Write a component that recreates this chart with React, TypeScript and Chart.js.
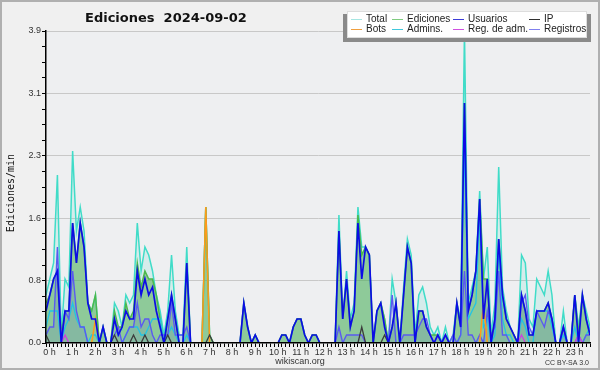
import React, { useEffect, useRef } from 'react';
import { Chart, registerables } from 'chart.js';

Chart.register(...registerables);

// 10-minute slots (6 per hour), values in edits per minute
const TOTAL = [
  0.6, 0.8, 1.0, 2.1, 0.1, 0.8,
  0.7, 2.4, 1.4, 1.7, 1.4, 0.5,
  0.4, 0.6, 0, 0.2, 0, 0,
  0.5, 0.4, 0.2, 0.6, 0.5, 0.6,
  1.5, 0.9, 1.2, 1.1, 0.9, 0.6,
  0.4, 0.1, 0.4, 1.1, 0.4, 0.1,
  0.1, 1.2, 0, 0, 0, 0,
  1.7, 0.1, 0, 0, 0, 0,
  0, 0, 0, 0, 0.5, 0.2,
  0, 0.1, 0, 0, 0, 0,
  0, 0, 0.1, 0.1, 0, 0.2,
  0.3, 0.3, 0.1, 0, 0.1, 0.1,
  0, 0, 0, 0, 0, 1.6,
  0.3, 0.9, 0.3, 0.5, 1.7, 1.2,
  1.2, 1.1, 0, 0.4, 0.5, 0.3,
  0, 0.8, 0.5, 0, 0.7, 1.3,
  1.1, 0.1, 0.6, 0.7, 0.5, 0.2,
  0.1, 0.2, 0, 0.2, 0, 0.1,
  0.5, 0.3, 3.9, 0.5, 0.7, 0.9,
  1.9, 0.8, 1.2, 0.1, 0.5, 2.2,
  0.7, 0.4, 0.2, 0.1, 0, 1.1,
  1.0, 0.3, 0.2, 0.8, 0.7, 0.6,
  0.9, 0.6, 0, 0, 0.4, 0,
  0, 0.6, 0.2, 0.6, 0.4, 0.2,
];

const EDICIONES = [
  0.5, 0.6, 0.8, 0.9, 0.1, 0.4,
  0.4, 1.5, 1.0, 1.5, 1.2, 0.5,
  0.4, 0.6, 0, 0.2, 0, 0,
  0.4, 0.2, 0.2, 0.5, 0.3, 0.4,
  1.0, 0.7, 0.9, 0.8, 0.8, 0.6,
  0.3, 0, 0.3, 0.6, 0.3, 0,
  0, 1.0, 0, 0, 0, 0,
  1.7, 0.1, 0, 0, 0, 0,
  0, 0, 0, 0, 0.5, 0.2,
  0, 0.1, 0, 0, 0, 0,
  0, 0, 0.1, 0.1, 0, 0.2,
  0.3, 0.3, 0.1, 0, 0.1, 0.1,
  0, 0, 0, 0, 0, 1.4,
  0.3, 0.8, 0.2, 0.4, 1.6, 1.1,
  1.2, 1.1, 0, 0.4, 0.5, 0.3,
  0, 0.2, 0.5, 0, 0.6, 1.2,
  1.0, 0, 0.4, 0.4, 0.2, 0.1,
  0.1, 0.1, 0, 0.1, 0, 0,
  0.5, 0.2, 3.0, 0.4, 0.6, 0.9,
  1.8, 0.8, 0.8, 0, 0.3, 1.3,
  0.6, 0.3, 0.2, 0.1, 0, 0.6,
  0.4, 0.1, 0.1, 0.4, 0.4, 0.4,
  0.5, 0.3, 0, 0, 0.2, 0,
  0, 0.6, 0.1, 0.6, 0.3, 0.1,
];

const USUARIOS = [
  0.4, 0.6, 0.8, 0.9, 0, 0.4,
  0.4, 1.5, 1.0, 1.5, 1.2, 0.5,
  0.3, 0.3, 0, 0.2, 0, 0,
  0.3, 0.1, 0.2, 0.4, 0.3, 0.3,
  0.9, 0.6, 0.8, 0.6, 0.7, 0.4,
  0.2, 0, 0.3, 0.6, 0.3, 0,
  0, 1.0, 0, 0, 0, 0,
  0, 0, 0, 0, 0, 0,
  0, 0, 0, 0, 0.5, 0.2,
  0, 0.1, 0, 0, 0, 0,
  0, 0, 0.1, 0.1, 0, 0.2,
  0.3, 0.3, 0.1, 0, 0.1, 0.1,
  0, 0, 0, 0, 0, 1.4,
  0.3, 0.8, 0.2, 0.4, 1.5, 0.8,
  1.2, 1.1, 0, 0.4, 0.5, 0.2,
  0, 0.2, 0.5, 0, 0.6, 1.2,
  1.0, 0, 0.4, 0.4, 0.2, 0.1,
  0, 0.1, 0, 0.1, 0, 0,
  0.5, 0.2, 3.0, 0.4, 0.6, 0.9,
  1.8, 0.3, 0.8, 0, 0.3, 1.3,
  0.6, 0.3, 0.2, 0.1, 0, 0.6,
  0.4, 0.1, 0.1, 0.4, 0.4, 0.4,
  0.5, 0.3, 0, 0, 0.2, 0,
  0, 0.6, 0, 0.6, 0.3, 0.1,
];

const IP = [
  0.1, 0, 0, 0, 0, 0,
  0, 0, 0, 0, 0, 0,
  0, 0, 0, 0, 0, 0,
  0.1, 0, 0, 0, 0, 0.1,
  0, 0, 0.1, 0, 0, 0,
  0, 0, 0.1, 0, 0, 0,
  0, 0, 0, 0, 0, 0,
  0, 0.1, 0, 0, 0, 0,
  0, 0, 0, 0, 0, 0,
  0, 0, 0, 0, 0, 0,
  0, 0, 0, 0, 0, 0,
  0, 0, 0, 0, 0, 0,
  0, 0, 0, 0, 0, 0,
  0, 0, 0, 0, 0, 0.2,
  0, 0, 0, 0, 0, 0.1,
  0, 0, 0, 0, 0, 0,
  0, 0, 0, 0, 0, 0,
  0, 0, 0, 0, 0, 0,
  0, 0, 0, 0, 0, 0,
  0, 0, 0, 0, 0, 0,
  0, 0, 0, 0, 0, 0,
  0, 0, 0, 0, 0, 0,
  0, 0, 0, 0, 0, 0,
  0, 0, 0, 0, 0, 0,
];

const BOTS = [
  0, 0, 0, 0, 0, 0,
  0, 0, 0, 0, 0, 0,
  0, 0.3, 0, 0, 0, 0,
  0, 0, 0, 0, 0, 0,
  0, 0, 0, 0, 0, 0,
  0, 0, 0, 0, 0, 0,
  0, 0, 0, 0, 0, 0,
  1.7, 0, 0, 0, 0, 0,
  0, 0, 0, 0, 0, 0,
  0, 0, 0, 0, 0, 0,
  0, 0, 0, 0, 0, 0,
  0, 0, 0, 0, 0, 0,
  0, 0, 0, 0, 0, 0,
  0, 0, 0, 0, 0, 0,
  0, 0, 0, 0, 0, 0,
  0, 0, 0, 0, 0, 0,
  0, 0, 0, 0, 0, 0,
  0, 0, 0, 0, 0, 0,
  0, 0, 0, 0, 0, 0,
  0, 0.5, 0, 0, 0, 0,
  0, 0, 0, 0, 0, 0,
  0, 0, 0, 0, 0, 0,
  0, 0, 0, 0, 0, 0,
  0, 0, 0, 0, 0, 0,
];

const ADMINS = [
  0.2, 0.4, 0.4, 0.4, 0, 0.2,
  0.3, 0.5, 0.3, 0.2, 0.2, 0,
  0.1, 0.1, 0, 0, 0, 0,
  0, 0, 0, 0.1, 0.2, 0.2,
  0.2, 0.1, 0.1, 0.2, 0.3, 0.3,
  0.3, 0, 0.1, 0.2, 0.1, 0,
  0, 0.1, 0, 0, 0, 0,
  0, 0, 0, 0, 0, 0,
  0, 0, 0, 0, 0, 0,
  0, 0, 0, 0, 0, 0,
  0, 0, 0, 0, 0, 0,
  0, 0, 0, 0, 0, 0,
  0, 0, 0, 0, 0, 0,
  0, 0, 0, 0, 0, 0,
  0, 0, 0, 0, 0, 0,
  0, 0, 0, 0, 0, 0,
  0, 0, 0, 0, 0, 0,
  0, 0, 0, 0, 0, 0,
  0, 0.1, 2.5, 0.3, 0.4, 0.5,
  1.6, 0.2, 0.3, 0, 0.1, 1.2,
  0.3, 0.1, 0.1, 0, 0, 0.3,
  0.2, 0, 0, 0.4, 0.4, 0.4,
  0.4, 0.2, 0, 0, 0.1, 0,
  0, 0.2, 0, 0, 0.1, 0.2,
];

const REG_ADM = [
  0, 0, 0, 0, 0, 0.1,
  0, 0, 0, 0, 0, 0,
  0, 0, 0, 0, 0, 0,
  0, 0, 0, 0, 0, 0,
  0, 0, 0, 0, 0, 0,
  0, 0, 0, 0, 0, 0,
  0, 0, 0, 0, 0, 0,
  0, 0, 0, 0, 0, 0,
  0, 0, 0, 0, 0, 0,
  0, 0, 0, 0, 0, 0,
  0, 0, 0, 0, 0, 0,
  0, 0, 0, 0, 0, 0,
  0, 0, 0, 0, 0, 0,
  0, 0, 0, 0, 0, 0,
  0, 0, 0, 0, 0, 0,
  0, 0, 0, 0, 0, 0,
  0, 0, 0, 0, 0, 0,
  0, 0, 0, 0, 0, 0,
  0, 0, 0, 0, 0, 0,
  0, 0, 0, 0, 0, 0,
  0, 0, 0, 0, 0, 0.1,
  0, 0, 0, 0, 0, 0,
  0, 0, 0, 0, 0, 0,
  0, 0, 0.1, 0, 0, 0,
];

const REGISTROS = [
  0.1, 0.2, 0.2, 1.2, 0, 0.4,
  0.3, 0.9, 0.4, 0.2, 0.2, 0,
  0, 0, 0, 0, 0, 0,
  0.1, 0.2, 0, 0.1, 0.2, 0.2,
  0.5, 0.2, 0.3, 0.3, 0.1, 0,
  0.1, 0.1, 0.1, 0.5, 0.1, 0.1,
  0.1, 0.2, 0, 0, 0, 0,
  0, 0, 0, 0, 0, 0,
  0, 0, 0, 0, 0, 0,
  0, 0, 0, 0, 0, 0,
  0, 0, 0, 0, 0, 0,
  0, 0, 0, 0, 0, 0,
  0, 0, 0, 0, 0, 0.2,
  0, 0.1, 0.1, 0.1, 0.1, 0.1,
  0, 0, 0, 0, 0, 0,
  0, 0.6, 0, 0, 0.1, 0.1,
  0.1, 0.1, 0.2, 0.3, 0.3, 0.1,
  0, 0.1, 0, 0.1, 0, 0.1,
  0, 0.1, 0.9, 0.1, 0.1, 0,
  0.1, 0, 0.4, 0.1, 0.2, 0.9,
  0.1, 0.1, 0, 0, 0, 0.5,
  0.6, 0.2, 0.1, 0.4, 0.3, 0.2,
  0.4, 0.3, 0, 0, 0.2, 0,
  0, 0, 0.1, 0, 0.1, 0.1,
];

const HOUR_LABELS = [
  '0 h', '1 h', '2 h', '3 h', '4 h', '5 h', '6 h', '7 h', '8 h', '9 h', '10 h', '11 h',
  '12 h', '13 h', '14 h', '15 h', '16 h', '17 h', '18 h', '19 h', '20 h', '21 h', '22 h', '23 h',
];
const SLOTS_PER_HOUR = 6;
const Y_TICK_LABELS = ['0.0', '0.8', '1.6', '2.3', '3.1', '3.9'];
const Y_MAX = 3.9;
const MINOR_PER_MAJOR = 4;

const TITLE = 'Ediciones  2024-09-02';
const Y_TITLE = 'Ediciones/min';

const C = {
  total: '#40dcc8',
  ed: '#4cb84c',
  us: '#0c0ce6',
  ip: '#3c3c3c',
  bots: '#ff9a1a',
  adm: '#22c4e4',
  regadm: '#cc44dd',
  reg: '#5a5af0',
};

const LEGEND = [
  [
    { label: 'Total', color: '#a6e6e2' },
    { label: 'Ediciones', color: '#80cc80' },
    { label: 'Usuarios', color: '#3c3cd8' },
    { label: 'IP', color: '#303030' },
  ],
  [
    { label: 'Bots', color: '#f0a040' },
    { label: 'Admins.', color: '#40c8dc' },
    { label: 'Reg. de adm.', color: '#d050e0' },
    { label: 'Registros', color: '#8080ee' },
  ],
];
const LEGEND_COL_X = [351, 392, 453, 529];
const LEGEND_ROW_Y = [19, 29];

const FONT = '"Liberation Sans", Arial, sans-serif';

const bgPlugin = {
  id: 'bg',
  beforeDraw(chart: any) {
    const { ctx, chartArea } = chart;
    ctx.save();
    ctx.fillStyle = '#f0f0f0';
    ctx.fillRect(0, 0, chart.width, chart.height);
    ctx.fillStyle = '#eeeff1';
    ctx.fillRect(chartArea.left, chartArea.top, chartArea.right - chartArea.left, chartArea.bottom - chartArea.top);
    ctx.restore();
  },
};

const decorPlugin = {
  id: 'decor',
  afterDraw(chart: any) {
    const { ctx, chartArea } = chart;
    ctx.save();
    // title
    ctx.fillStyle = '#111';
    ctx.font = 'bold 13px "DejaVu Sans", sans-serif';
    ctx.textAlign = 'left';
    ctx.textBaseline = 'alphabetic';
    ctx.fillText(TITLE, 85, 22);

    // y title
    ctx.save();
    ctx.translate(11, (chartArea.top + chartArea.bottom) / 2 + 6);
    ctx.rotate(-Math.PI / 2);
    ctx.font = '10px "DejaVu Sans Mono", monospace';
    ctx.textAlign = 'center';
    ctx.textBaseline = 'middle';
    ctx.fillStyle = '#111';
    ctx.fillText(Y_TITLE, 0, 0);
    ctx.restore();

    // footer
    ctx.fillStyle = '#333';
    ctx.font = `9px ${FONT}`;
    ctx.textAlign = 'center';
    ctx.textBaseline = 'alphabetic';
    ctx.fillText('wikiscan.org', 300, 364);
    ctx.font = `7px ${FONT}`;
    ctx.textAlign = 'right';
    ctx.fillText('CC BY-SA 3.0', 589, 365);

    // legend
    ctx.fillStyle = '#8a8a8a';
    ctx.fillRect(343, 14, 248, 28);
    ctx.fillStyle = '#ffffff';
    ctx.fillRect(347, 11, 240, 27);
    ctx.strokeStyle = '#dddddd';
    ctx.lineWidth = 1;
    ctx.strokeRect(347.5, 11.5, 239, 26);
    ctx.font = `10px ${FONT}`;
    ctx.textAlign = 'left';
    ctx.textBaseline = 'middle';
    LEGEND.forEach((row, r) => {
      row.forEach((item, c) => {
        const x = LEGEND_COL_X[c];
        const y = LEGEND_ROW_Y[r];
        ctx.strokeStyle = item.color;
        ctx.lineWidth = 1;
        ctx.beginPath();
        ctx.moveTo(x, y + 0.5);
        ctx.lineTo(x + 11, y + 0.5);
        ctx.stroke();
        ctx.fillStyle = '#222';
        ctx.fillText(item.label, x + 15, y + 0.5);
      });
    });

    // outer frame
    ctx.strokeStyle = '#b0b0b0';
    ctx.lineWidth = 2;
    ctx.strokeRect(1, 1, chart.width - 2, chart.height - 2);
    ctx.restore();
  },
};

function series(label: string, values: number[], color: string, width: number, order: number, fillColor?: string) {
  return {
    label,
    data: values.map((v, i) => ({ x: i, y: v })),
    borderColor: color,
    borderWidth: width,
    backgroundColor: fillColor || color,
    fill: fillColor ? 'origin' : false,
    pointRadius: 0,
    tension: 0,
    order,
  };
}

export default function App() {
  const ref = useRef<HTMLCanvasElement>(null);

  useEffect(() => {
    const canvas = ref.current;
    if (!canvas) return;
    const lastSlot = TOTAL.length - 1;
    const chart = new Chart(canvas, {
      type: 'line',
      data: {
        datasets: [
          series('Total', TOTAL, C.total, 1.5, 8, 'rgba(64,220,200,0.14)'),
          series('Ediciones', EDICIONES, C.ed, 1.5, 7, 'rgba(72,168,72,0.5)'),
          series('Usuarios', USUARIOS, C.us, 1.7, 1),
          series('IP', IP, C.ip, 1.3, 2),
          series('Bots', BOTS, C.bots, 1.5, 4),
          series('Admins.', ADMINS, C.adm, 1.3, 6),
          series('Reg. de adm.', REG_ADM, C.regadm, 1.3, 3),
          series('Registros', REGISTROS, C.reg, 1.4, 5, 'rgba(90,90,210,0.15)'),
        ] as any,
      },
      options: {
        animation: false,
        responsive: false,
        devicePixelRatio: 1,
        layout: { padding: { top: 31, right: 10, left: 0, bottom: 0 } },
        plugins: {
          legend: { display: false },
          tooltip: { enabled: false },
          title: { display: false },
          filler: { drawTime: 'beforeDatasetsDraw' },
        } as any,
        scales: {
          x: {
            type: 'linear',
            min: 0,
            max: lastSlot,
            afterFit: (s: any) => { s.height = 27; },
            afterBuildTicks: (s: any) => { s.ticks = TOTAL.map((_, i) => ({ value: i })); },
            ticks: {
              autoSkip: false,
              maxRotation: 0,
              minRotation: 0,
              padding: 0,
              labelOffset: 3.5,
              color: '#333',
              font: { family: FONT, size: 9 },
              callback: (v: any) => (v % SLOTS_PER_HOUR === 0 ? HOUR_LABELS[v / SLOTS_PER_HOUR] : ''),
            },
            grid: { drawOnChartArea: false, tickLength: 4, tickColor: '#000', tickWidth: 1 },
            border: { color: '#000', width: 1.5, z: 1 },
          },
          y: {
            type: 'linear',
            min: 0,
            max: Y_MAX,
            afterFit: (s: any) => { s.width = 46; },
            afterBuildTicks: (s: any) => {
              const n = (Y_TICK_LABELS.length - 1) * MINOR_PER_MAJOR;
              const t = [];
              for (let k = 0; k <= n; k++) t.push({ value: (Y_MAX * k) / n });
              s.ticks = t;
            },
            ticks: {
              autoSkip: false,
              padding: 1,
              color: '#333',
              font: { family: FONT, size: 9 },
              callback: (_v: any, idx: number) => (idx % MINOR_PER_MAJOR === 0 ? Y_TICK_LABELS[idx / MINOR_PER_MAJOR] : ''),
            },
            grid: {
              color: (ctx: any) => (ctx.index % MINOR_PER_MAJOR === 0 && ctx.index > 0 ? '#c8c8c8' : 'rgba(0,0,0,0)'),
              tickColor: '#000',
              tickLength: 4,
              lineWidth: 1,
            },
            border: { color: '#000', width: 1.5, z: 1 },
          },
        } as any,
      },
      plugins: [bgPlugin, decorPlugin],
    });
    return () => chart.destroy();
  }, []);

  return (
    <div style={{ position: 'fixed', left: 0, top: 0, width: 600, height: 370 }}>
      <canvas ref={ref} width={600} height={370} style={{ width: 600, height: 370, display: 'block' }} />
    </div>
  );
}
